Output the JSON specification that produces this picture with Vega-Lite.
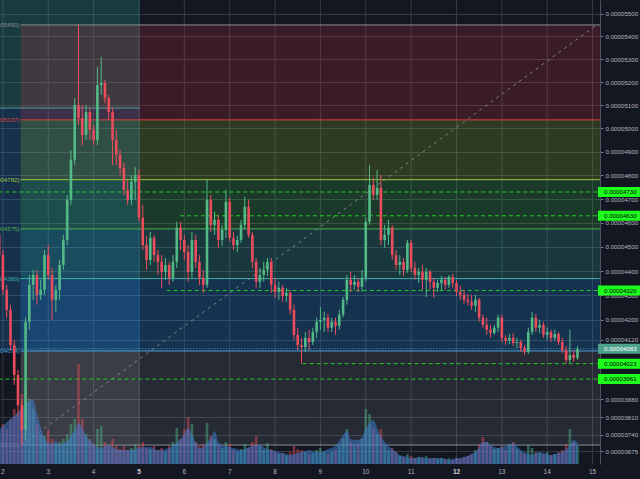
{
"$schema": "https://vega.github.io/schema/vega-lite/v6.json",
"width": 600, "height": 464,
"autosize": {"type": "none"},
"padding": {"left": 0, "top": 0, "right": 40, "bottom": 15},
"background": "#131722",
"config": {"view": {"stroke": null, "fill": "#131722"}, "font": "Liberation Sans", "scale": {"continuousPadding": 0}},
"datasets": {
"days": [{"d":2},{"d":3},{"d":4},{"d":5},{"d":6},{"d":7},{"d":8},{"d":9},{"d":10},{"d":11},{"d":12},{"d":13},{"d":14},{"d":15}],
"c": [
{"t":1.917,"o":4550,"h":4571,"l":4438,"c":4466,"v":30,"m":34},
{"t":2,"o":4466,"h":4487,"l":4302,"c":4323,"v":40,"m":38},
{"t":2.083,"o":4323,"h":4343,"l":4209,"c":4241,"v":35,"m":42},
{"t":2.167,"o":4241,"h":4262,"l":4078,"c":4098,"v":45,"m":45},
{"t":2.25,"o":4098,"h":4119,"l":3937,"c":3978,"v":55,"m":48},
{"t":2.333,"o":3978,"h":3998,"l":3818,"c":3857,"v":50,"m":52},
{"t":2.417,"o":3857,"h":3877,"l":3700,"c":3759,"v":70,"m":56},
{"t":2.5,"o":3762,"h":4209,"l":3720,"c":4192,"v":80,"m":60},
{"t":2.583,"o":4192,"h":4384,"l":4160,"c":4343,"v":65,"m":63},
{"t":2.667,"o":4343,"h":4405,"l":4282,"c":4384,"v":55,"m":64},
{"t":2.75,"o":4384,"h":4405,"l":4262,"c":4302,"v":40,"m":50},
{"t":2.833,"o":4302,"h":4364,"l":4282,"c":4323,"v":30,"m":37},
{"t":2.917,"o":4323,"h":4487,"l":4302,"c":4466,"v":28,"m":26},
{"t":3,"o":4466,"h":4508,"l":4364,"c":4384,"v":34,"m":21},
{"t":3.083,"o":4384,"h":4413,"l":4200,"c":4282,"v":25,"m":20},
{"t":3.167,"o":4282,"h":4343,"l":4233,"c":4323,"v":20,"m":23},
{"t":3.25,"o":4323,"h":4446,"l":4282,"c":4425,"v":22,"m":19},
{"t":3.333,"o":4425,"h":4550,"l":4405,"c":4529,"v":25,"m":21},
{"t":3.417,"o":4529,"h":4718,"l":4508,"c":4697,"v":30,"m":23},
{"t":3.5,"o":4697,"h":4908,"l":4676,"c":4866,"v":40,"m":28},
{"t":3.583,"o":4866,"h":5131,"l":4845,"c":5101,"v":45,"m":34},
{"t":3.667,"o":5101,"h":5450,"l":5015,"c":5045,"v":100,"m":41},
{"t":3.75,"o":5045,"h":5101,"l":4929,"c":4972,"v":45,"m":36},
{"t":3.833,"o":4972,"h":5101,"l":4951,"c":5071,"v":30,"m":28},
{"t":3.917,"o":5071,"h":5088,"l":4951,"c":4994,"v":25,"m":24},
{"t":4,"o":4994,"h":5015,"l":4929,"c":4951,"v":20,"m":20},
{"t":4.083,"o":4951,"h":5266,"l":4929,"c":5187,"v":35,"m":17},
{"t":4.167,"o":5187,"h":5309,"l":5144,"c":5196,"v":38,"m":16},
{"t":4.25,"o":5196,"h":5209,"l":5109,"c":5131,"v":22,"m":18},
{"t":4.333,"o":5131,"h":5144,"l":5036,"c":5071,"v":18,"m":19},
{"t":4.417,"o":5071,"h":5088,"l":4845,"c":4951,"v":25,"m":17},
{"t":4.5,"o":4951,"h":4994,"l":4845,"c":4887,"v":18,"m":15},
{"t":4.583,"o":4887,"h":4908,"l":4803,"c":4832,"v":15,"m":14},
{"t":4.667,"o":4832,"h":4853,"l":4716,"c":4739,"v":18,"m":14},
{"t":4.75,"o":4739,"h":4781,"l":4676,"c":4697,"v":14,"m":14},
{"t":4.833,"o":4697,"h":4802,"l":4676,"c":4773,"v":16,"m":14},
{"t":4.917,"o":4773,"h":4836,"l":4697,"c":4802,"v":20,"m":15},
{"t":5,"o":4802,"h":4824,"l":4605,"c":4622,"v":18,"m":16},
{"t":5.083,"o":4622,"h":4676,"l":4487,"c":4508,"v":22,"m":17},
{"t":5.167,"o":4508,"h":4546,"l":4405,"c":4446,"v":16,"m":17},
{"t":5.25,"o":4446,"h":4563,"l":4425,"c":4538,"v":15,"m":17},
{"t":5.333,"o":4538,"h":4550,"l":4438,"c":4466,"v":18,"m":15},
{"t":5.417,"o":4466,"h":4487,"l":4384,"c":4438,"v":14,"m":14},
{"t":5.5,"o":4438,"h":4466,"l":4331,"c":4397,"v":16,"m":14},
{"t":5.583,"o":4397,"h":4454,"l":4364,"c":4425,"v":12,"m":15},
{"t":5.667,"o":4425,"h":4438,"l":4343,"c":4372,"v":18,"m":16},
{"t":5.75,"o":4372,"h":4466,"l":4356,"c":4438,"v":22,"m":18},
{"t":5.833,"o":4438,"h":4605,"l":4413,"c":4580,"v":36,"m":21},
{"t":5.917,"o":4580,"h":4605,"l":4487,"c":4529,"v":25,"m":25},
{"t":6,"o":4529,"h":4550,"l":4446,"c":4479,"v":35,"m":30},
{"t":6.083,"o":4479,"h":4508,"l":4356,"c":4397,"v":47,"m":36},
{"t":6.167,"o":4397,"h":4563,"l":4372,"c":4529,"v":40,"m":30},
{"t":6.25,"o":4529,"h":4550,"l":4413,"c":4438,"v":22,"m":22},
{"t":6.333,"o":4438,"h":4466,"l":4343,"c":4372,"v":18,"m":16},
{"t":6.417,"o":4372,"h":4405,"l":4310,"c":4343,"v":20,"m":17},
{"t":6.5,"o":4343,"h":4781,"l":4331,"c":4697,"v":41,"m":21},
{"t":6.583,"o":4697,"h":4718,"l":4563,"c":4592,"v":28,"m":26},
{"t":6.667,"o":4592,"h":4647,"l":4550,"c":4613,"v":25,"m":33},
{"t":6.75,"o":4613,"h":4634,"l":4496,"c":4529,"v":18,"m":22},
{"t":6.833,"o":4529,"h":4592,"l":4504,"c":4571,"v":16,"m":19},
{"t":6.917,"o":4571,"h":4739,"l":4538,"c":4689,"v":22,"m":18},
{"t":7,"o":4689,"h":4706,"l":4521,"c":4538,"v":20,"m":17},
{"t":7.083,"o":4538,"h":4563,"l":4487,"c":4508,"v":14,"m":16},
{"t":7.167,"o":4508,"h":4546,"l":4479,"c":4529,"v":12,"m":15},
{"t":7.25,"o":4529,"h":4613,"l":4517,"c":4592,"v":15,"m":14},
{"t":7.333,"o":4592,"h":4710,"l":4571,"c":4668,"v":20,"m":15},
{"t":7.417,"o":4668,"h":4697,"l":4538,"c":4550,"v":16,"m":17},
{"t":7.5,"o":4550,"h":4563,"l":4413,"c":4438,"v":22,"m":18},
{"t":7.583,"o":4438,"h":4454,"l":4331,"c":4356,"v":28,"m":19},
{"t":7.667,"o":4356,"h":4413,"l":4331,"c":4384,"v":18,"m":19},
{"t":7.75,"o":4384,"h":4438,"l":4356,"c":4405,"v":14,"m":17},
{"t":7.833,"o":4405,"h":4454,"l":4380,"c":4438,"v":21,"m":15},
{"t":7.917,"o":4438,"h":4454,"l":4310,"c":4343,"v":15,"m":14},
{"t":8,"o":4343,"h":4372,"l":4290,"c":4314,"v":12,"m":13},
{"t":8.083,"o":4314,"h":4356,"l":4282,"c":4331,"v":10,"m":12},
{"t":8.167,"o":4331,"h":4343,"l":4274,"c":4298,"v":11,"m":11},
{"t":8.25,"o":4298,"h":4331,"l":4274,"c":4310,"v":9,"m":10},
{"t":8.333,"o":4310,"h":4323,"l":4221,"c":4241,"v":12,"m":9},
{"t":8.417,"o":4241,"h":4262,"l":4119,"c":4139,"v":18,"m":10},
{"t":8.5,"o":4139,"h":4168,"l":4078,"c":4098,"v":15,"m":11},
{"t":8.583,"o":4098,"h":4127,"l":4023,"c":4090,"v":14,"m":12},
{"t":8.667,"o":4090,"h":4151,"l":4070,"c":4127,"v":12,"m":13},
{"t":8.75,"o":4127,"h":4160,"l":4078,"c":4110,"v":10,"m":14},
{"t":8.833,"o":4110,"h":4168,"l":4098,"c":4151,"v":11,"m":13},
{"t":8.917,"o":4151,"h":4209,"l":4127,"c":4192,"v":14,"m":12},
{"t":9,"o":4192,"h":4253,"l":4160,"c":4200,"v":16,"m":12},
{"t":9.083,"o":4200,"h":4233,"l":4151,"c":4209,"v":12,"m":13},
{"t":9.167,"o":4209,"h":4225,"l":4151,"c":4168,"v":10,"m":15},
{"t":9.25,"o":4168,"h":4209,"l":4151,"c":4192,"v":12,"m":16},
{"t":9.333,"o":4192,"h":4209,"l":4139,"c":4176,"v":14,"m":19},
{"t":9.417,"o":4176,"h":4241,"l":4160,"c":4221,"v":18,"m":23},
{"t":9.5,"o":4221,"h":4294,"l":4209,"c":4282,"v":25,"m":29},
{"t":9.583,"o":4282,"h":4384,"l":4262,"c":4364,"v":35,"m":33},
{"t":9.667,"o":4364,"h":4397,"l":4314,"c":4343,"v":22,"m":25},
{"t":9.75,"o":4343,"h":4384,"l":4323,"c":4356,"v":18,"m":24},
{"t":9.833,"o":4356,"h":4372,"l":4314,"c":4335,"v":20,"m":24},
{"t":9.917,"o":4335,"h":4405,"l":4314,"c":4372,"v":25,"m":27},
{"t":10,"o":4372,"h":4622,"l":4356,"c":4605,"v":55,"m":35},
{"t":10.083,"o":4605,"h":4845,"l":4592,"c":4760,"v":50,"m":41},
{"t":10.167,"o":4760,"h":4790,"l":4697,"c":4718,"v":35,"m":44},
{"t":10.25,"o":4718,"h":4824,"l":4697,"c":4748,"v":30,"m":36},
{"t":10.333,"o":4748,"h":4802,"l":4508,"c":4529,"v":35,"m":28},
{"t":10.417,"o":4529,"h":4592,"l":4496,"c":4550,"v":18,"m":22},
{"t":10.5,"o":4550,"h":4613,"l":4508,"c":4580,"v":14,"m":18},
{"t":10.583,"o":4580,"h":4592,"l":4446,"c":4466,"v":16,"m":15},
{"t":10.667,"o":4466,"h":4487,"l":4405,"c":4425,"v":12,"m":12},
{"t":10.75,"o":4425,"h":4466,"l":4384,"c":4438,"v":8,"m":9},
{"t":10.833,"o":4438,"h":4454,"l":4380,"c":4405,"v":7,"m":8},
{"t":10.917,"o":4405,"h":4529,"l":4392,"c":4517,"v":10,"m":7},
{"t":11,"o":4517,"h":4529,"l":4397,"c":4413,"v":8,"m":6},
{"t":11.083,"o":4413,"h":4438,"l":4364,"c":4384,"v":6,"m":6},
{"t":11.167,"o":4384,"h":4413,"l":4351,"c":4397,"v":7,"m":7},
{"t":11.25,"o":4397,"h":4425,"l":4323,"c":4364,"v":6,"m":7},
{"t":11.333,"o":4364,"h":4413,"l":4294,"c":4397,"v":8,"m":6},
{"t":11.417,"o":4397,"h":4405,"l":4323,"c":4356,"v":5,"m":6},
{"t":11.5,"o":4356,"h":4372,"l":4290,"c":4331,"v":6,"m":6},
{"t":11.583,"o":4331,"h":4364,"l":4314,"c":4351,"v":5,"m":6},
{"t":11.667,"o":4351,"h":4380,"l":4323,"c":4364,"v":6,"m":6},
{"t":11.75,"o":4364,"h":4376,"l":4323,"c":4343,"v":5,"m":5},
{"t":11.833,"o":4343,"h":4384,"l":4331,"c":4376,"v":6,"m":4},
{"t":11.917,"o":4376,"h":4388,"l":4331,"c":4351,"v":4,"m":5},
{"t":12,"o":4351,"h":4364,"l":4298,"c":4314,"v":6,"m":6},
{"t":12.083,"o":4314,"h":4339,"l":4282,"c":4302,"v":5,"m":6},
{"t":12.167,"o":4302,"h":4323,"l":4266,"c":4282,"v":7,"m":7},
{"t":12.25,"o":4282,"h":4306,"l":4258,"c":4274,"v":8,"m":8},
{"t":12.333,"o":4274,"h":4302,"l":4241,"c":4258,"v":10,"m":10},
{"t":12.417,"o":4258,"h":4302,"l":4233,"c":4282,"v":14,"m":12},
{"t":12.5,"o":4282,"h":4290,"l":4192,"c":4209,"v":20,"m":17},
{"t":12.583,"o":4209,"h":4221,"l":4168,"c":4180,"v":27,"m":22},
{"t":12.667,"o":4180,"h":4209,"l":4139,"c":4160,"v":22,"m":22},
{"t":12.75,"o":4160,"h":4180,"l":4127,"c":4147,"v":18,"m":19},
{"t":12.833,"o":4147,"h":4180,"l":4139,"c":4168,"v":15,"m":17},
{"t":12.917,"o":4168,"h":4221,"l":4151,"c":4209,"v":16,"m":16},
{"t":13,"o":4209,"h":4221,"l":4110,"c":4127,"v":18,"m":17},
{"t":13.083,"o":4127,"h":4139,"l":4098,"c":4115,"v":14,"m":18},
{"t":13.167,"o":4115,"h":4143,"l":4102,"c":4127,"v":20,"m":19},
{"t":13.25,"o":4127,"h":4147,"l":4094,"c":4106,"v":22,"m":21},
{"t":13.333,"o":4106,"h":4127,"l":4086,"c":4110,"v":15,"m":18},
{"t":13.417,"o":4110,"h":4119,"l":4070,"c":4086,"v":12,"m":14},
{"t":13.5,"o":4086,"h":4098,"l":4058,"c":4070,"v":10,"m":12},
{"t":13.583,"o":4070,"h":4168,"l":4062,"c":4151,"v":19,"m":10},
{"t":13.667,"o":4151,"h":4233,"l":4139,"c":4209,"v":16,"m":9},
{"t":13.75,"o":4209,"h":4225,"l":4151,"c":4168,"v":12,"m":11},
{"t":13.833,"o":4168,"h":4200,"l":4147,"c":4180,"v":11,"m":12},
{"t":13.917,"o":4180,"h":4192,"l":4127,"c":4139,"v":10,"m":11},
{"t":14,"o":4139,"h":4168,"l":4119,"c":4151,"v":12,"m":10},
{"t":14.083,"o":4151,"h":4160,"l":4110,"c":4127,"v":9,"m":9},
{"t":14.167,"o":4127,"h":4160,"l":4115,"c":4143,"v":10,"m":10},
{"t":14.25,"o":4143,"h":4151,"l":4098,"c":4110,"v":12,"m":11},
{"t":14.333,"o":4110,"h":4127,"l":4066,"c":4078,"v":14,"m":12},
{"t":14.417,"o":4078,"h":4094,"l":4022,"c":4038,"v":20,"m":15},
{"t":14.5,"o":4038,"h":4160,"l":4026,"c":4058,"v":35,"m":19},
{"t":14.583,"o":4058,"h":4078,"l":4030,"c":4046,"v":22,"m":24},
{"t":14.667,"o":4046,"h":4094,"l":4038,"c":4083,"v":18,"m":21}
],
"bands": [
{"b":"0","lo":5037,"hi":5450},
{"b":"0.236","lo":4782,"hi":5037},
{"b":"0.382","lo":4575,"hi":4782},
{"b":"0.5","lo":4369,"hi":4575},
{"b":"0.618","lo":4074,"hi":4369},
{"b":"0.786","lo":3700,"hi":4074}
],
"levels": [
{"lvl":"0","p":5450,"label":"0(0.00005450)"},
{"lvl":"0.236","p":5037,"label":"0.236(0.00005037)"},
{"lvl":"0.382","p":4782,"label":"0.382(0.00004782)"},
{"lvl":"0.5","p":4575,"label":"0.5(0.00004575)"},
{"lvl":"0.618","p":4369,"label":"0.618(0.00004369)"},
{"lvl":"0.786","p":4074,"label":"0.786(0.00004074)"},
{"lvl":"1","p":3700,"label":"1(0.00003700)"}
],
"zones": [
{"zone":"target","lo":5088,"hi":5560},
{"zone":"entry","lo":4075,"hi":5088},
{"zone":"range","lo":3626,"hi":4075}
],
"hlines": [
{"p":4730,"from":1.9,"txt":"0.00004730"},
{"p":4630,"from":5.904,"txt":"0.00004630"},
{"p":4320,"from":5.611,"txt":"0.00004320"},
{"p":4023,"from":8.609,"txt":"0.00004023"},
{"p":3961,"from":1.9,"txt":"0.00003961"}
],
"last": [{"p":4083,"txt":"0.00004083"}],
"trend": [{"t":2.41,"p":3700},{"t":15.09,"p":5450}]
},
"layer": [
{"data":{"name":"days"},"mark":{"type":"rule","color":"#363a45","strokeWidth":1},
 "encoding":{
  "x":{"field":"d","type":"quantitative","scale":{"domain":[1.936,15.164],"nice":false,"zero":false,"padding":0},"axis":null}}},
{"data":{"name":"zones"},"transform":[{"filter":"datum.zone !== 'range'"}],
 "mark":{"type":"rect"},
 "encoding":{
  "x":{"datum":1.9,"type":"quantitative","axis":null},
  "x2":{"datum":5.022},
  "y":{"field":"lo","type":"quantitative","scale":{"type":"pow","exponent":0.7,"domain":[3626,5560],"zero":false,"nice":false,"padding":0},"axis":null},
  "y2":{"field":"hi"},
  "color":{"condition":{"test":"datum.zone === 'target'","value":"rgba(38,166,154,0.25)"},"value":"rgba(33,150,243,0.2)"}}},
{"data":{"name":"bands"},"mark":{"type":"rect"},
 "encoding":{
  "x":{"datum":2.39,"type":"quantitative","axis":null},
  "x2":{"datum":15.164},
  "y":{"field":"lo","type":"quantitative","scale":{"type":"pow","exponent":0.7,"domain":[3626,5560],"zero":false,"nice":false,"padding":0},"axis":null},
  "y2":{"field":"hi"},
  "fill":{"field":"b","type":"nominal","legend":null,"scale":{"domain":["0","0.236","0.382","0.5","0.618","0.786"],"range":["rgba(242,54,69,0.175)","rgba(154,198,34,0.2)","rgba(60,200,74,0.2)","rgba(44,188,176,0.2)","rgba(33,150,243,0.22)","rgba(149,152,161,0.15)"]}}}},
{"data":{"name":"zones"},"transform":[{"filter":"datum.zone === 'range'"}],
 "mark":{"type":"rect","color":"rgba(190,190,190,0.13)"},
 "encoding":{
  "x":{"datum":2.39,"type":"quantitative","axis":null},
  "x2":{"datum":5.022},
  "y":{"field":"lo","type":"quantitative","scale":{"type":"pow","exponent":0.7,"domain":[3626,5560],"zero":false,"nice":false,"padding":0},"axis":null},
  "y2":{"field":"hi"}}},
{"data":{"name":"zones"},"transform":[{"filter":"datum.zone === 'target'"}],
 "mark":{"type":"rule","color":"#5b9a9a","strokeWidth":1},
 "encoding":{
  "x":{"datum":1.9,"type":"quantitative","axis":null},
  "x2":{"datum":5.022},
  "y":{"field":"lo","type":"quantitative","scale":{"type":"pow","exponent":0.7,"domain":[3626,5560],"zero":false,"nice":false,"padding":0},"axis":null}}},
{"data":{"name":"levels"},"mark":{"type":"rule","strokeWidth":1},
 "encoding":{
  "x":{"datum":2.39,"type":"quantitative","axis":null},
  "x2":{"datum":15.164},
  "y":{"field":"p","type":"quantitative","scale":{"type":"pow","exponent":0.7,"domain":[3626,5560],"zero":false,"nice":false,"padding":0},"axis":null},
  "stroke":{"field":"lvl","type":"nominal","legend":null,"scale":{"domain":["0","0.236","0.382","0.5","0.618","0.786","1"],"range":["#8a8d96","#d8453a","#9bc53d","#4caf50","#3fb0a8","#4a9fd8","#8a8d96"]}}}},
{"data":{"name":"levels"},"mark":{"type":"text","align":"right","baseline":"middle","dx":-1,"fontSize":6.2},
 "encoding":{
  "x":{"datum":2.39,"type":"quantitative","axis":null},
  "y":{"field":"p","type":"quantitative","scale":{"type":"pow","exponent":0.7,"domain":[3626,5560],"zero":false,"nice":false,"padding":0},"axis":null},
  "text":{"field":"label"},
  "color":{"field":"lvl","type":"nominal","legend":null,"scale":{"domain":["0","0.236","0.382","0.5","0.618","0.786","1"],"range":["#8a8d96","#d8453a","#9bc53d","#4caf50","#3fb0a8","#4a9fd8","#8a8d96"]}}}},
{"data":{"name":"trend"},"mark":{"type":"line","color":"#9598a1","strokeWidth":1,"strokeDash":[3,4],"opacity":0.8},
 "encoding":{
  "x":{"field":"t","type":"quantitative","axis":null},
  "y":{"field":"p","type":"quantitative","scale":{"type":"pow","exponent":0.7,"domain":[3626,5560],"zero":false,"nice":false,"padding":0},"axis":null}}},
{"data":{"name":"hlines"},"mark":{"type":"rule","color":"#1fd01f","strokeWidth":1,"strokeDash":[4,3]},
 "encoding":{
  "x":{"field":"from","type":"quantitative","axis":null},
  "x2":{"datum":15.164},
  "y":{"field":"p","type":"quantitative","scale":{"type":"pow","exponent":0.7,"domain":[3626,5560],"zero":false,"nice":false,"padding":0},"axis":null}}},
{"data":{"name":"last"},"mark":{"type":"rule","color":"#5c9fb8","strokeWidth":1,"strokeDash":[1,2]},
 "encoding":{
  "x":{"datum":1.9,"type":"quantitative","axis":null},
  "x2":{"datum":15.164},
  "y":{"field":"p","type":"quantitative","scale":{"type":"pow","exponent":0.7,"domain":[3626,5560],"zero":false,"nice":false,"padding":0},"axis":null}}},
{"data":{"name":"c"},"mark":{"type":"bar","size":2.6,"opacity":0.45},
 "encoding":{
  "x":{"field":"t","type":"quantitative","axis":null},
  "y":{"field":"v","type":"quantitative","stack":null,"scale":{"domain":[0,464],"nice":false,"padding":0},"axis":null},
  "color":{"condition":{"test":"datum.c >= datum.o","value":"#53b987"},"value":"#eb4d5c"}}},
{"data":{"name":"c"},"mark":{"type":"area","interpolate":"monotone","color":"#3d7fd9","opacity":0.5},
 "encoding":{
  "x":{"field":"t","type":"quantitative","axis":null},
  "y":{"field":"m","type":"quantitative","stack":null,"scale":{"domain":[0,464],"nice":false,"padding":0},"axis":null}}},
{"data":{"name":"c"},"mark":{"type":"rule","strokeWidth":1},
 "encoding":{
  "x":{"field":"t","type":"quantitative","axis":null},
  "y":{"field":"l","type":"quantitative","scale":{"type":"pow","exponent":0.7,"domain":[3626,5560],"zero":false,"nice":false,"padding":0},"axis":{"orient":"right","values":[5500,5400,5300,5200,5100,5000,4900,4800,4700,4600,4500,4400,4300,4200,4120,3880,3810,3740,3675,3610],"labelExpr":"format(datum.value/100000000,'.8f')","title":null,"labelFontSize":6.2,"labelColor":"#b2b5be","tickSize":3,"tickColor":"#787b86","domainColor":"#50535e","grid":true,"gridColor":"#363a45","labelPadding":2}},
  "y2":{"field":"h"},
  "color":{"condition":{"test":"datum.c >= datum.o","value":"#53b987"},"value":"#eb4d5c"}}},
{"data":{"name":"c"},"mark":{"type":"bar","size":2.6},
 "encoding":{
  "x":{"field":"t","type":"quantitative","axis":null},
  "y":{"field":"o","type":"quantitative","scale":{"type":"pow","exponent":0.7,"domain":[3626,5560],"zero":false,"nice":false,"padding":0},"axis":null},
  "y2":{"field":"c"},
  "color":{"condition":{"test":"datum.c >= datum.o","value":"#53b987"},"value":"#eb4d5c"}}},
{"data":{"name":"hlines"},"mark":{"type":"tick","orient":"horizontal","size":42,"thickness":10,"color":"#1eff1e","opacity":1},
 "encoding":{
  "x":{"datum":15.582,"type":"quantitative","axis":null},
  "y":{"field":"p","type":"quantitative","scale":{"type":"pow","exponent":0.7,"domain":[3626,5560],"zero":false,"nice":false,"padding":0},"axis":null}}},
{"data":{"name":"hlines"},"mark":{"type":"text","align":"left","baseline":"middle","fontSize":6.2,"color":"#000000"},
 "encoding":{
  "x":{"datum":15.252,"type":"quantitative","axis":null},
  "y":{"field":"p","type":"quantitative","scale":{"type":"pow","exponent":0.7,"domain":[3626,5560],"zero":false,"nice":false,"padding":0},"axis":null},
  "text":{"field":"txt"}}},
{"data":{"name":"last"},"mark":{"type":"tick","orient":"horizontal","size":42,"thickness":10,"color":"#4ea28b","opacity":1},
 "encoding":{
  "x":{"datum":15.582,"type":"quantitative","axis":null},
  "y":{"field":"p","type":"quantitative","scale":{"type":"pow","exponent":0.7,"domain":[3626,5560],"zero":false,"nice":false,"padding":0},"axis":null}}},
{"data":{"name":"last"},"mark":{"type":"text","align":"left","baseline":"middle","fontSize":6.2,"color":"#ffffff"},
 "encoding":{
  "x":{"datum":15.252,"type":"quantitative","axis":null},
  "y":{"field":"p","type":"quantitative","scale":{"type":"pow","exponent":0.7,"domain":[3626,5560],"zero":false,"nice":false,"padding":0},"axis":null},
  "text":{"field":"txt"}}},
{"data":{"name":"days"},"transform":[{"filter":"datum.d !== 5 && datum.d !== 12"}],
 "mark":{"type":"text","align":"center","baseline":"middle","dy":8,"fontSize":6.5,"color":"#b2b5be"},
 "encoding":{
  "x":{"field":"d","type":"quantitative","axis":null},
  "y":{"datum":3626,"type":"quantitative","scale":{"type":"pow","exponent":0.7,"domain":[3626,5560],"zero":false,"nice":false,"padding":0},"axis":null},
  "text":{"field":"d","type":"quantitative","format":"d"}}},
{"data":{"name":"days"},"transform":[{"filter":"datum.d === 5 || datum.d === 12"}],
 "mark":{"type":"text","align":"center","baseline":"middle","dy":8,"fontSize":6.5,"fontWeight":"bold","color":"#d1d4dc"},
 "encoding":{
  "x":{"field":"d","type":"quantitative","axis":null},
  "y":{"datum":3626,"type":"quantitative","scale":{"type":"pow","exponent":0.7,"domain":[3626,5560],"zero":false,"nice":false,"padding":0},"axis":null},
  "text":{"field":"d","type":"quantitative","format":"d"}}}
],
"resolve":{"scale":{"y":"independent"}}
}
